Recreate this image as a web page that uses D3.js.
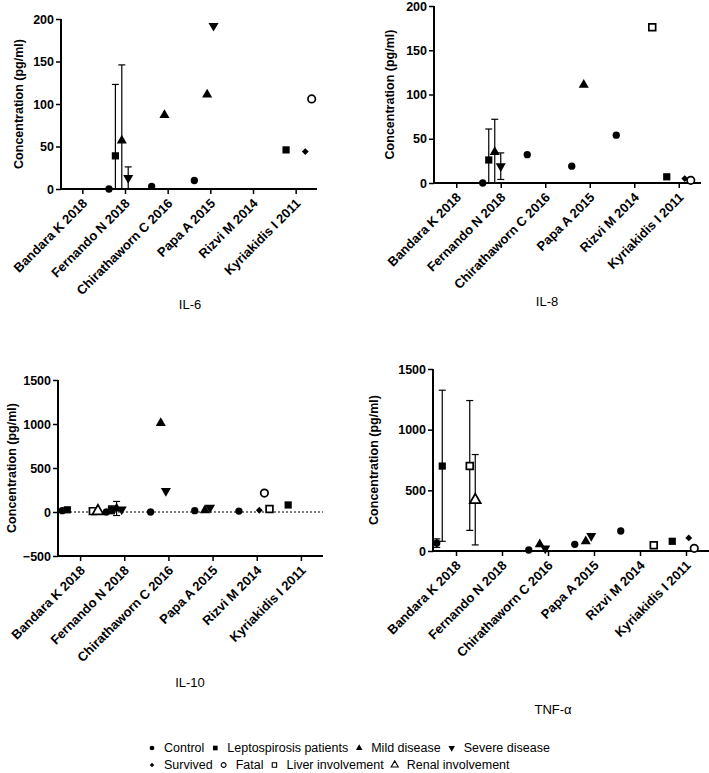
<!DOCTYPE html>
<html><head><meta charset="utf-8">
<script src="https://cdn.jsdelivr.net/npm/d3@7"></script>
<style>
body{margin:0;background:#fff}
svg{display:block}
text{font-family:"Liberation Sans",Arial,sans-serif;fill:#000}
</style>
</head><body><svg id="c" width="709" height="773"></svg>
<script>
// ---------- DATA ----------
const categories = ["Bandara K 2018","Fernando N 2018","Chirathaworn C 2016","Papa A 2015","Rizvi M 2014","Kyriakidis I 2011"];
const seriesNames = ["Control","Leptospirosis patients","Mild disease","Severe disease","Survived","Fatal","Liver involvement","Renal involvement"];
const seriesShapes = ["circle","square","triangle","triangleDown","diamond","circleOpen","squareOpen","triangleOpen"];

// rows follow seriesNames, columns follow categories
const il6Values = [
  [null, 0, 3, 10, null, null],
  [null, 39, null, null, null, 46],
  [null, 57, 87, 111, null, null],
  [null, 13, null, 192, null, null],
  [null, null, null, null, null, 44],
  [null, null, null, null, null, 106],
  [null, null, null, null, null, null],
  [null, null, null, null, null, null]
];
const il6Errors = [[1,1,-45,123],[2,1,-32,146],[3,1,0,26]]; // [series, category, low, high]

const il8Values = [
  [null, 0, 32, 19, 54, null],
  [null, 26, null, null, null, 7],
  [null, 35, null, 111, null, null],
  [null, 19, null, null, null, null],
  [null, null, null, null, null, 5],
  [null, null, null, null, null, 3],
  [null, null, null, null, 176, null],
  [null, null, null, null, null, null]
];
const il8Errors = [[1,1,-9,61],[2,1,-2,72],[3,1,4,34]];

const il10Values = [
  [15, 0, 0, 15, 10, null],
  [25, 25, null, null, null, 80],
  [null, 40, 1010, 20, null, null],
  [null, 30, 240, 50, null, null],
  [null, null, null, null, 20, null],
  [null, null, null, null, 215, null],
  [10, null, null, null, 35, null],
  [10, null, null, null, null, null]
];
const il10Errors = [[1,1,-20,70],[2,1,-40,120]];

const tnfValues = [
  [65, null, 8, 55, 165, null],
  [700, null, null, null, null, 80],
  [null, null, 55, 80, null, null],
  [null, null, 22, 125, null, null],
  [null, null, null, null, null, 108],
  [null, null, null, null, null, 22],
  [700, null, null, null, 47, null],
  [420, null, null, null, null, null]
];
const tnfErrors = [[0,0,30,100],[1,0,80,1325],[6,0,170,1240],[7,0,50,795]];

const il6Ticks = [0,50,100,150,200];
const il8Ticks = [0,50,100,150,200];
const il10Ticks = [-500,0,500,1000,1500];
const tnfTicks = [0,500,1000,1500];

// ---------- LAYOUT ----------
const panels = [
  {title:"IL-6", values:il6Values, errors:il6Errors, ticks:il6Ticks, domain:[0,200],
   x0:61, x1:317, yTop:19, yBot:189, step:6.4, titleX:190, titleY:309, yTitleX:19, zeroLine:false},
  {title:"IL-8", values:il8Values, errors:il8Errors, ticks:il8Ticks, domain:[0,200],
   x0:434, x1:701, yTop:6, yBot:183, step:6, titleX:547, titleY:306, yTitleX:390, zeroLine:false},
  {title:"IL-10", values:il10Values, errors:il10Errors, ticks:il10Ticks, domain:[-500,1500],
   x0:58, x1:323, yTop:380, yBot:556, step:5.1, titleX:190, titleY:687, yTitleX:12, zeroLine:true},
  {title:"TNF-α", values:tnfValues, errors:tnfErrors, ticks:tnfTicks, domain:[0,1500],
   x0:433, x1:709, yTop:369, yBot:551, step:5.5, titleX:553, titleY:714, yTitleX:374, zeroLine:false}
];

const svg = d3.select("#c");

function shapePath(shape, size){
  const map = {circle:d3.symbolCircle, circleOpen:d3.symbolCircle, square:d3.symbolSquare, squareOpen:d3.symbolSquare,
    triangle:d3.symbolTriangle, triangleOpen:d3.symbolTriangle, triangleDown:d3.symbolTriangle, diamond:d3.symbolDiamond2};
  return d3.symbol().type(map[shape]).size(size)();
}
const markSize = {circle:42, square:52, triangle:44, triangleDown:44, diamond:30, circleOpen:44, squareOpen:46, triangleOpen:52};

function drawMarker(g, shape, x, y, scale){
  const open = shape.endsWith("Open");
  return g.append("path")
    .attr("d", shapePath(shape, markSize[shape]*scale))
    .attr("transform", `translate(${x},${y})` + (shape==="triangleDown" ? " rotate(180)" : ""))
    .attr("fill", open ? "#fff" : "#000")
    .attr("stroke", open ? "#000" : "none")
    .attr("stroke-width", open ? 1.7*Math.sqrt(scale) : 0);
}

panels.forEach(P => {
  const g = svg.append("g");
  const x = d3.scalePoint().domain(categories).range([P.x0, P.x1]).padding(0.5);
  const y = d3.scaleLinear().domain(P.domain).range([P.yBot, P.yTop]);

  const present = seriesNames.map((s,i)=>i).filter(i => P.values[i].some(v => v !== null));
  const half = (present.length-1)*P.step/2;
  const off = d3.scalePoint().domain(present).range([-half, half]);

  if (P.zeroLine){
    g.append("line").attr("x1",P.x0).attr("x2",P.x1).attr("y1",y(0)).attr("y2",y(0))
      .attr("stroke","#000").attr("stroke-width",1).attr("stroke-dasharray","2,2");
  }

  const ya = g.append("g").attr("transform",`translate(${P.x0},0)`)
    .call(d3.axisLeft(y).tickValues(P.ticks).tickSize(5).tickSizeOuter(0).tickPadding(2).tickFormat(d3.format("d")));
  const xa = g.append("g").attr("transform",`translate(0,${P.yBot})`)
    .call(d3.axisBottom(x).tickSize(5).tickSizeOuter(0));
  [ya,xa].forEach(a=>{
    a.select(".domain").attr("stroke","#000").attr("stroke-width",2);
    a.selectAll(".tick line").attr("stroke","#000").attr("stroke-width",1.5);
    a.selectAll("text").attr("font-size",12.5).attr("font-weight","bold").attr("fill","#000")
      .attr("font-family","'Liberation Sans', Arial, sans-serif");
  });
  ya.select(".domain").attr("d",`M0,${P.yBot+1}V${P.yTop}`);
  xa.select(".domain").attr("d",`M${P.x0-1},0H${P.x1}`);
  xa.selectAll(".tick text")
    .attr("font-size",13)
    .attr("text-anchor","end").attr("x",0).attr("y",0).attr("dy","0.35em")
    .attr("transform","translate(2,12) rotate(-45)");

  g.append("text").attr("transform",`translate(${P.yTitleX},${(P.yTop+P.yBot)/2}) rotate(-90)`)
    .attr("text-anchor","middle").attr("dy","0.35em").attr("font-size",12.5).attr("font-weight","bold")
    .text("Concentration (pg/ml)");

  g.append("text").attr("x",P.titleX).attr("y",P.titleY).attr("text-anchor","middle")
    .attr("font-size",13).text(P.title);

  P.errors.forEach(([s,c,lo,hi]) => {
    const cx = x(categories[c]) + off(s);
    const loC = Math.max(lo, P.domain[0]);
    g.append("line").attr("x1",cx).attr("x2",cx).attr("y1",y(loC)).attr("y2",y(hi))
      .attr("stroke","#000").attr("stroke-width",1.2);
    g.append("line").attr("x1",cx-3.5).attr("x2",cx+3.5).attr("y1",y(hi)).attr("y2",y(hi))
      .attr("stroke","#000").attr("stroke-width",1.2);
    if (lo > P.domain[0]){
      g.append("line").attr("x1",cx-3.5).attr("x2",cx+3.5).attr("y1",y(lo)).attr("y2",y(lo))
        .attr("stroke","#000").attr("stroke-width",1.2);
    }
  });

  present.forEach(s => {
    P.values[s].forEach((v,c) => {
      if (v === null) return;
      drawMarker(g, seriesShapes[s], x(categories[c]) + off(s), y(v), 1);
    });
  });
});

// ---------- LEGEND ----------
const legendRows = [[0,1,2,3],[4,5,6,7]];
const legendY = [748, 765];
const lg = svg.append("g");
legendRows.forEach((row, r) => {
  let cx = 152;
  row.forEach(s => {
    drawMarker(lg, seriesShapes[s], cx, legendY[r], 0.42);
    const t = lg.append("text").attr("x", cx + 12).attr("y", legendY[r]).attr("dy","0.35em")
      .attr("font-size",12.5).text(seriesNames[s]);
    cx = cx + 12 + t.node().getComputedTextLength() + 11;
  });
});
</script>
</body></html>
